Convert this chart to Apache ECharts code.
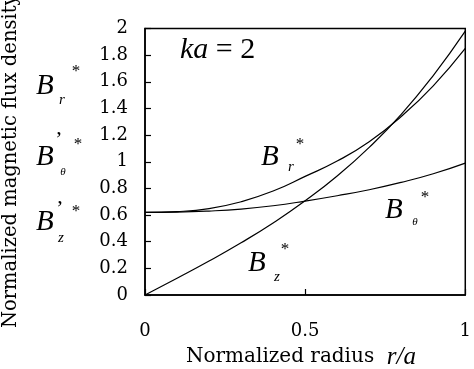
<!DOCTYPE html>
<html>
<head>
<meta charset="utf-8">
<script src="https://cdn.jsdelivr.net/npm/echarts@6/dist/echarts.min.js"></script>
<style>html,body{margin:0;padding:0;background:#fff}#c{width:474px;height:369px}</style>
</head>
<body>
<div id="c"></div>
<script>
// Normalized radius r/a
const rVals = [0, 0.1, 0.2, 0.3, 0.4, 0.5, 0.6, 0.7, 0.8, 0.9, 1.0];
// B_r*
const brVals = [0.62, 0.626, 0.648, 0.70, 0.78, 0.89, 1.005, 1.15, 1.34, 1.57, 1.85];
// B_theta*
const bthetaVals = [0.62, 0.622, 0.63, 0.645, 0.67, 0.705, 0.745, 0.79, 0.845, 0.91, 0.99];
// B_z*
const bzVals = [0, 0.126, 0.255, 0.392, 0.541, 0.707, 0.893, 1.108, 1.356, 1.647, 1.98];
const xTicks = [0, 0.5, 1];
const yTicks = [0, 0.2, 0.4, 0.6, 0.8, 1, 1.2, 1.4, 1.6, 1.8, 2];

const SERIF = '"Liberation Serif", "Times New Roman", serif';
const NUMF = '"DejaVu Serif", serif';

function pairs(ys) { return rVals.map((x, i) => [x, ys[i]]); }

function bLabel(x, y, sub, dxs, dys, dxa, dya, size) {
  size = size || 29;
  return [
    { type: 'text', left: x, top: y - size / 2, style: { text: 'B', font: 'italic ' + size + 'px ' + SERIF, fill: '#000' } },
    { type: 'text', x: x + dxs, y: y + dys, style: { text: sub, font: 'italic ' + (sub === 'θ' ? 11 : 15) + 'px ' + SERIF, fill: '#000', align: 'center', verticalAlign: 'middle' } },
    { type: 'text', x: x + dxa, y: y + dya, style: { text: '*', font: '17px ' + SERIF, fill: '#000', align: 'center', verticalAlign: 'middle' } }
  ];
}

const chart = echarts.init(document.getElementById('c'), null, { renderer: 'canvas' });
const lineStyle = { color: '#000', width: 1.2 };
const graphics = [].concat(
  bLabel(261, 157, 'r', 30, 10, 39, -12),
  bLabel(385, 210, 'θ', 30, 12, 40, -12),
  bLabel(248, 263, 'z', 29, 14, 37, -13),
  bLabel(36, 86, 'r', 26, 14, 40, -14),
  bLabel(36, 157, 'θ', 27, 15, 42, -12),
  bLabel(36, 222, 'z', 25, 16, 40, -10),
  [
    { type: 'text', x: 59, y: 128, style: { text: ',', font: '22px ' + SERIF, fill: '#000', align: 'center', verticalAlign: 'middle' } },
    { type: 'text', x: 60, y: 197, style: { text: ',', font: '22px ' + SERIF, fill: '#000', align: 'center', verticalAlign: 'middle' } },
    { type: 'text', x: 180, y: 50, style: { text: '{i|ka} = 2', font: '30px ' + SERIF, fill: '#000', verticalAlign: 'middle', rich: { i: { fontStyle: 'italic', fontSize: 30, fontFamily: SERIF } } } },
    { type: 'text', x: 186, y: 357, style: { text: 'Normalized radius  {i|r/a}', font: '20px ' + NUMF, fill: '#000', verticalAlign: 'middle', rich: { i: { fontStyle: 'italic', fontSize: 25, fontFamily: SERIF } } } },
    { type: 'text', x: 11, y: 328, rotation: Math.PI / 2, style: { text: 'Normalized magnetic flux density', font: '19.5px ' + NUMF, fill: '#000', align: 'left', verticalAlign: 'middle' } }
  ]
);

chart.setOption({
  animation: false,
  backgroundColor: '#fff',
  grid: { left: 145, right: 6, top: 28.5, bottom: 74, show: true, borderColor: '#000', borderWidth: 1.5, backgroundColor: 'transparent' },
  xAxis: {
    type: 'value', min: xTicks[0], max: xTicks[xTicks.length - 1], interval: 0.5,
    axisLine: { show: true, lineStyle: { color: '#000', width: 1.5 } },
    axisTick: { show: true, inside: true, length: 6, lineStyle: { color: '#000', width: 1.2 } },
    splitLine: { show: false },
    axisLabel: { color: '#000', fontFamily: NUMF, fontSize: 18, margin: 27, formatter: v => String(v) }
  },
  yAxis: {
    type: 'value', min: yTicks[0], max: yTicks[yTicks.length - 1], interval: 0.2,
    axisLine: { show: true, lineStyle: { color: '#000', width: 1.5 } },
    axisTick: { show: true, inside: true, length: 6, lineStyle: { color: '#000', width: 1.2 } },
    splitLine: { show: false },
    axisLabel: { color: '#000', fontFamily: NUMF, fontSize: 18, margin: 17, formatter: v => String(Math.round(v * 10) / 10) }
  },
  series: [
    { name: 'Br', type: 'line', data: pairs(brVals), smooth: true, showSymbol: false, lineStyle: lineStyle },
    { name: 'Btheta', type: 'line', data: pairs(bthetaVals), smooth: true, showSymbol: false, lineStyle: lineStyle },
    { name: 'Bz', type: 'line', data: pairs(bzVals), smooth: true, showSymbol: false, lineStyle: lineStyle }
  ],
  graphic: graphics
});
</script>
</body>
</html>
